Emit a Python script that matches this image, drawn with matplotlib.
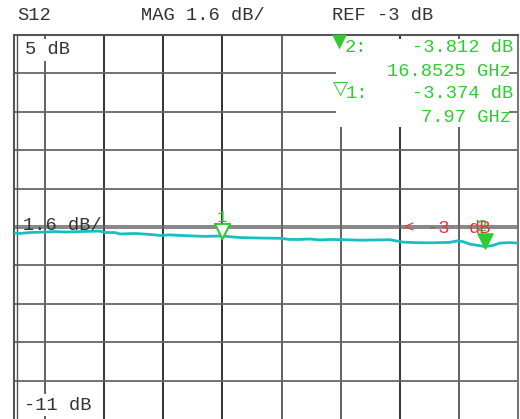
import matplotlib
matplotlib.use("Agg")
import matplotlib.pyplot as plt
from matplotlib.patches import Rectangle

# ---- data ----
freq_ghz = [0.96, 1.16, 1.50, 2.01, 2.35, 2.68, 3.19, 3.86, 4.03, 4.37, 4.54, 5.05, 5.55,
            5.89, 6.23, 6.90, 7.41, 7.97, 8.59, 9.27, 9.94, 10.28, 10.62, 10.95, 11.29,
            11.63, 12.13, 12.64, 13.15, 13.65, 14.09, 14.50, 15.00, 15.68, 15.92, 16.12,
            16.35, 16.85, 17.10, 17.37, 17.70, 17.97]
s12_db = [-3.25, -3.27, -3.23, -3.21, -3.19, -3.21, -3.19, -3.17, -3.23, -3.23, -3.29, -3.27,
          -3.31, -3.35, -3.33, -3.37, -3.39, -3.374, -3.44, -3.46, -3.47, -3.52, -3.52, -3.50,
          -3.54, -3.52, -3.53, -3.55, -3.54, -3.53, -3.63, -3.65, -3.66, -3.64, -3.58, -3.61,
          -3.71, -3.812, -3.78, -3.67, -3.65, -3.67]
marker_freq = [7.97, 16.8525]
marker_db = [-3.374, -3.812]
marker_names = ["1", "2"]
freq_text = ["7.97 GHz", "16.8525 GHz"]
db_text = ["-3.374 dB", "-3.812 dB"]
ref_db = -3.0
scale_db = 1.6
top_db = 5.0
n_div = 10
x_grid = [2, 4, 6, 8, 10, 12, 14, 16]
x_grid_dark = [4, 6, 8, 14]

W, H = 520, 419
fig = plt.figure(figsize=(W / 100, H / 100), dpi=100)
fig.patch.set_facecolor("white")

def fx(px):
    return px / W

def fy(py):
    return 1 - py / H

top_px, bot_px, left_px, right_px = 35, 419, 14, 518
ax = fig.add_axes([fx(left_px), fy(bot_px), fx(right_px) - fx(left_px), fy(top_px) - fy(bot_px)])
bottom_db = top_db - n_div * scale_db
ax.set_xlim(0.96, 17.98)
ax.set_ylim(bottom_db, top_db)
ax.set_xticks([])
ax.set_yticks([])
for s in ax.spines.values():
    s.set_color("#555555")
    s.set_linewidth(1.5)
ax.spines["bottom"].set_visible(False)
ax.spines["right"].set_color("#777777")

mono = "Liberation Mono"
fs = 13.5
green = "#2ECC2E"
cyan = "#17BFC2"
red = "#E03C3C"

# grid
for xg in x_grid:
    c = "#222222" if xg in x_grid_dark else "#555555"
    ax.axvline(xg, color=c, lw=1.3, zorder=1)
for k in range(1, n_div):
    yv = top_db - k * scale_db
    if abs(yv - ref_db) < 1e-6:
        continue
    ax.axhline(yv, color="#666666", lw=1.3, zorder=1)
# reference double line
ax.axhline(ref_db + 0.06, color="#666666", lw=1.1, zorder=1)
ax.axhline(ref_db - 0.06, color="#666666", lw=1.1, zorder=1)
# inner left border line
ax.axvline(1.06, color="#555555", lw=1.0, zorder=1)

# trace
ax.plot(freq_ghz, s12_db, color=cyan, lw=2.0, zorder=4)

# markers
ax.scatter([marker_freq[0]], [marker_db[0] + 0.22], marker="v", s=120, facecolors="white",
           edgecolors=green, linewidths=1.5, zorder=6)
ax.scatter([marker_freq[1]], [marker_db[1] + 0.22], marker="v", s=120, color=green, zorder=6)
ax.text(marker_freq[0], marker_db[0] + 0.78, marker_names[0], color=green, family=mono,
        fontsize=fs - 1, ha="center", va="center", zorder=6)
ax.text(16.75, ref_db + 0.02, marker_names[1], color=green, family=mono,
        fontsize=fs - 1, ha="center", va="center", zorder=6)

# reference marker
fig.text(fx(404), fy(228), "<", color=red, family=mono, fontsize=fs - 1, ha="left", va="center", zorder=7)
fig.text(fx(427), fy(228), "-3", color=red, family=mono, fontsize=fs, ha="left", va="center", zorder=7)
fig.text(fx(469), fy(228), "dB", color=red, family=mono, fontsize=fs, ha="left", va="center", zorder=7)

# white box for readout
fig.add_artist(Rectangle((fx(336), fy(127)), fx(509) - fx(336), fy(39) - fy(127),
                         transform=fig.transFigure, facecolor="white", edgecolor="none", zorder=5))

# header
fig.text(fx(17), fy(15), "S12", family=mono, fontsize=fs, color="#333333", va="center", ha="left")
fig.text(fx(141), fy(15), "MAG 1.6 dB/", family=mono, fontsize=fs, color="#333333", va="center", ha="left")
fig.text(fx(332), fy(15), "REF -3 dB", family=mono, fontsize=fs, color="#333333", va="center", ha="left")

# scale labels
fig.text(fx(25), fy(50), "5 dB", family=mono, fontsize=fs, color="#333333", va="center", ha="left",
         bbox=dict(facecolor="white", edgecolor="none", pad=1.5), zorder=6)
fig.text(fx(24), fy(405), "-11 dB", family=mono, fontsize=fs, color="#333333", va="center", ha="left",
         bbox=dict(facecolor="white", edgecolor="none", pad=1.5), zorder=6)
fig.text(fx(23), fy(225), "1.6 dB/", family=mono, fontsize=fs, color="#333333", va="center", ha="left",
         zorder=6)

# marker readout
fig.text(fx(339), fy(41), "\u25BC", color=green, fontsize=14, ha="center", va="center", zorder=7)
fig.text(fx(340), fy(88), "\u25BD", color=green, fontsize=14, ha="center", va="center", zorder=7)
fig.text(fx(345), fy(47), marker_names[1] + ":", family=mono, fontsize=fs, color=green,
         ha="left", va="center", zorder=7)
fig.text(fx(513), fy(47), db_text[1], family=mono, fontsize=fs, color=green, ha="right", va="center", zorder=7)
fig.text(fx(511), fy(71), freq_text[1], family=mono, fontsize=fs, color=green, ha="right", va="center", zorder=7)
fig.text(fx(346), fy(94), marker_names[0] + ":", family=mono, fontsize=fs, color=green,
         ha="left", va="center", zorder=7)
fig.text(fx(513), fy(94), db_text[0], family=mono, fontsize=fs, color=green, ha="right", va="center", zorder=7)
fig.text(fx(511), fy(117), freq_text[0], family=mono, fontsize=fs, color=green, ha="right", va="center", zorder=7)

fig.savefig("out.png", dpi=100)
